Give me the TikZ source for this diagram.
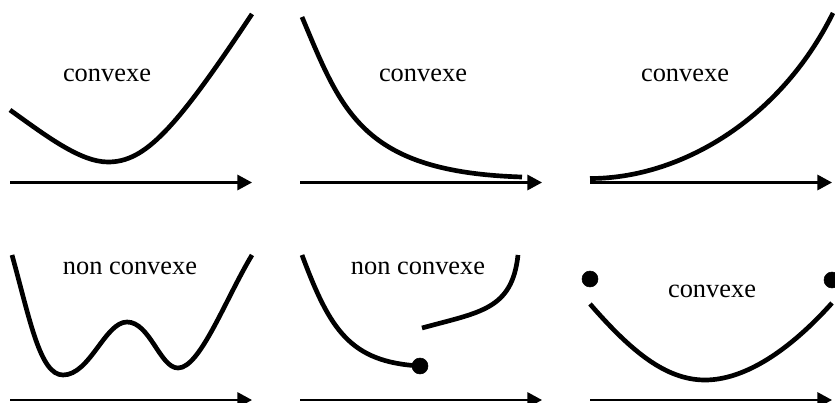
\documentclass[tikz,border=0pt]{standalone}
\usepackage{fontspec}
\setmainfont{Liberation Serif}
\usetikzlibrary{arrows.meta}

\tikzset{
  axis/.style={line width=1.7pt, -{Triangle[length=11pt,width=11.5pt]}},
  graph/.style={line width=3.5pt},
  lbl/.style={font=\fontsize{19.8}{23}\selectfont, inner sep=0pt},
}

\begin{document}
\begin{tikzpicture}[x=0.75pt, y=-0.75pt]
\useasboundingbox (0,0) rectangle (835,403);

% Axes
\draw[axis] (10,182.5) -- (252,182.5);
\draw[axis] (300,182.5) -- (542,182.5);
\draw[axis] (590,182.5) -- (832,182.5);
\draw[axis] (10,400) -- (252,400);
\draw[axis] (300,400) -- (542,400);
\draw[axis] (590,400) -- (832,400);

% Top row: convex curves
\draw[graph] (10,110) .. controls (45,135) and (80,162) .. (108,162)
  .. controls (145,162) and (175,130) .. (252,14);
\draw[graph] (302,17) .. controls (342,112) and (362,172) .. (522,177);
\draw[graph] (590,178.5) .. controls (680,178.5) and (780,120) .. (833,13);

% Bottom left: two minima
\draw[graph] (12,255) .. controls (30,320) and (40,375) .. (63,375)
  .. controls (90,375) and (105,322) .. (127,322)
  .. controls (150,322) and (160,368) .. (178,368)
  .. controls (200,368) and (225,300) .. (252,255);

% Bottom middle: jump
\draw[graph] (302,255) .. controls (330,330) and (350,362) .. (420,366);
\draw[graph] (422,328) .. controls (480,312) and (512,310) .. (518,255);
\filldraw (420,366) circle (8);

% Bottom right: end points above the curve
\draw[graph] (590,304) .. controls (630,350) and (665,380) .. (705,380)
  .. controls (745,380) and (790,350) .. (832,303);
\filldraw (590,279) circle (8);
\filldraw (832,280) circle (8);

% Labels
\node[lbl] (c1) at (107,75) {convexe};
\node[lbl] (c2) at (423,75) {convexe};
\node[lbl] (c3) at (685,75) {convexe};
\node[lbl] (n1) at (130,268) {non convexe};
\node[lbl] (n2) at (418,268) {non convexe};
\node[lbl] (c4) at (712,291) {convexe};

\end{tikzpicture}
\end{document}
